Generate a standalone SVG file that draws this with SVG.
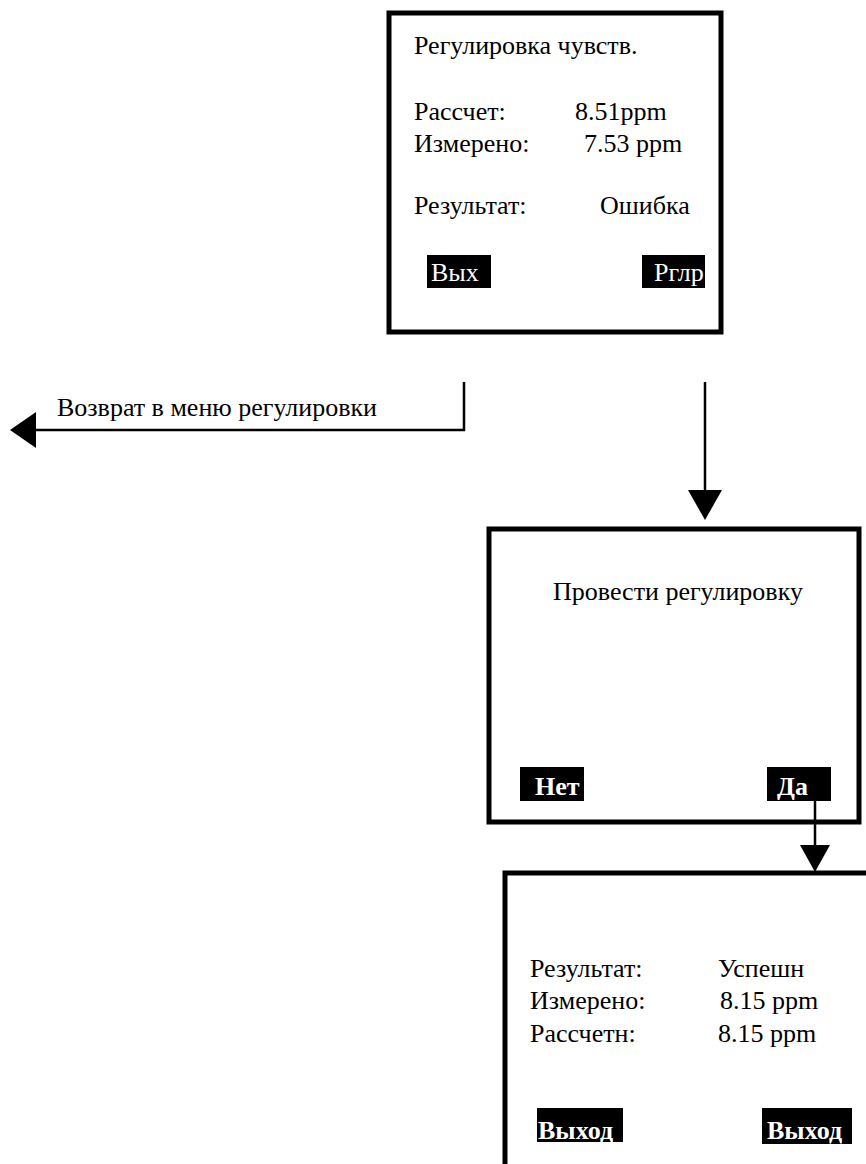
<svg xmlns="http://www.w3.org/2000/svg" width="866" height="1164" viewBox="0 0 866 1164">
<rect width="866" height="1164" fill="#fff"/>
<g id="screen1">
<rect x="389" y="13" width="332" height="319" fill="none" stroke="#000" stroke-width="5"/>
<text font-family="serif" font-size="26" x="414" y="54">Регулировка чувств.</text>
<text font-family="serif" font-size="26" x="414" y="120">Рассчет:</text>
<text font-family="serif" font-size="26" x="575" y="120">8.51ppm</text>
<text font-family="serif" font-size="26" x="414" y="152">Измерено:</text>
<text font-family="serif" font-size="26" x="584" y="152">7.53 ppm</text>
<text font-family="serif" font-size="26" x="414" y="214">Результат:</text>
<text font-family="serif" font-size="26" x="600" y="214">Ошибка</text>
<rect x="427" y="255" width="64" height="33" fill="#000"/>
<text font-family="serif" font-size="26" fill="#fff" x="431" y="281">Вых</text>
<rect x="642" y="255" width="63" height="33" fill="#000"/>
<text font-family="serif" font-size="26" fill="#fff" x="654" y="281">Рглр</text>
</g>
<g id="screen2">
<rect x="489" y="529" width="370" height="293" fill="none" stroke="#000" stroke-width="5"/>
<text font-family="serif" font-size="26" x="553" y="600">Провести регулировку</text>
<rect x="520" y="767" width="64" height="34" fill="#000"/>
<text font-family="serif" font-size="26" font-weight="bold" fill="#fff" x="535" y="795">Нет</text>
<rect x="767" y="767" width="64" height="34" fill="#000"/>
<text font-family="serif" font-size="26" font-weight="bold" fill="#fff" x="777" y="795">Да</text>
</g>
<g id="screen3">
<rect x="505" y="873" width="400" height="320" fill="none" stroke="#000" stroke-width="5"/>
<text font-family="serif" font-size="26" x="530" y="977">Результат:</text>
<text font-family="serif" font-size="26" x="718" y="977">Успешн</text>
<text font-family="serif" font-size="26" x="530" y="1009">Измерено:</text>
<text font-family="serif" font-size="26" x="720" y="1009">8.15 ppm</text>
<text font-family="serif" font-size="26" x="530" y="1042">Рассчетн:</text>
<text font-family="serif" font-size="26" x="718" y="1042">8.15 ppm</text>
<rect x="537" y="1108" width="86" height="34" fill="#000"/>
<text font-family="serif" font-size="26" font-weight="bold" fill="#fff" x="538" y="1139">Выход</text>
<rect x="762" y="1108" width="90" height="36" fill="#000"/>
<text font-family="serif" font-size="26" font-weight="bold" fill="#fff" x="767" y="1139">Выход</text>
</g>
<g id="label-return">
<text font-family="serif" font-size="26" x="57" y="416">Возврат в меню регулировки</text>
</g>
<g id="connectors" stroke="#000" stroke-width="2.5" fill="none">
<polyline points="464,382 464,430 34,430"/>
<polygon points="10,430 36,412 36,448" fill="#000" stroke="none"/>
<line x1="705" y1="382" x2="705" y2="492"/>
<polygon points="688,490 722,490 705,520" fill="#000" stroke="none"/>
<line x1="815" y1="801" x2="815" y2="847"/>
<polygon points="800,845 830,845 815,872" fill="#000" stroke="none"/>
</g>
</svg>
